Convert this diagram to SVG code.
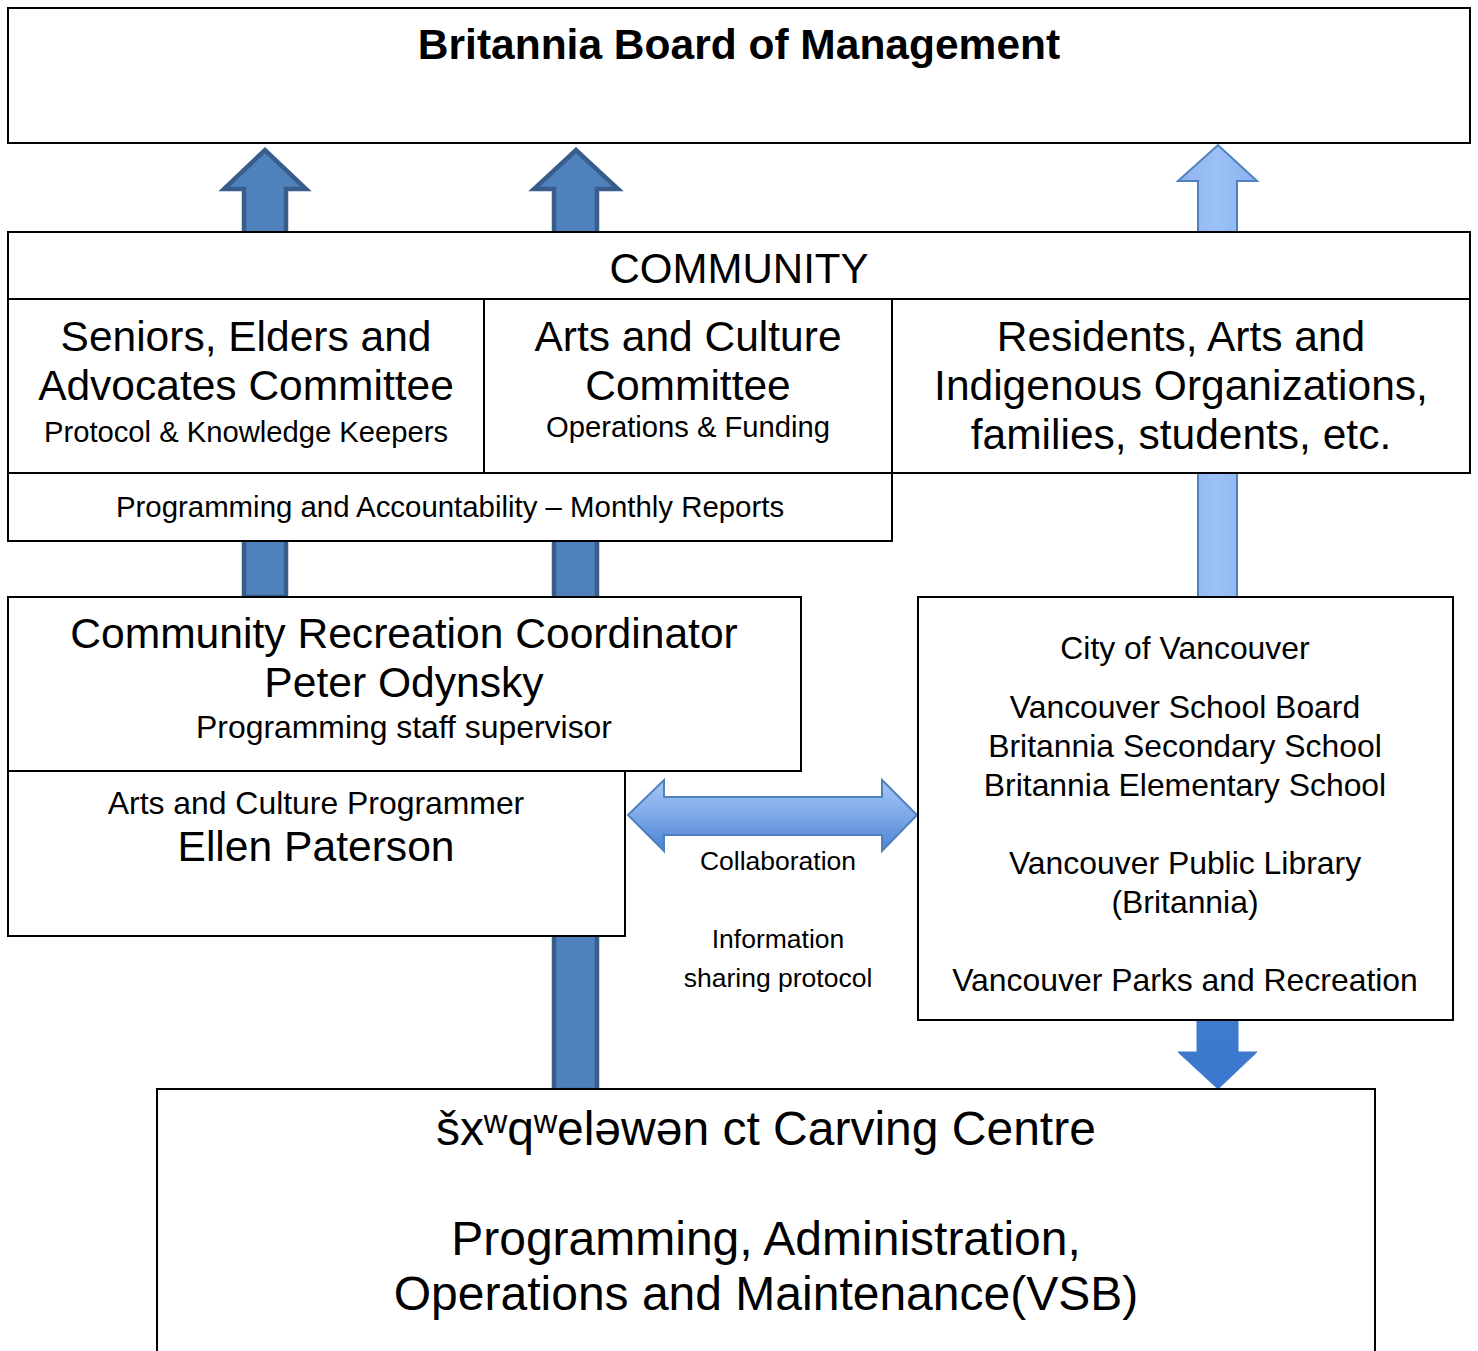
<svg xmlns="http://www.w3.org/2000/svg" width="1478" height="1351" viewBox="0 0 1478 1351">
<defs>
<linearGradient id="gLight" x1="0" y1="0" x2="1" y2="0">
<stop offset="0" stop-color="#8fb4ee"/><stop offset="0.5" stop-color="#9cc1f8"/><stop offset="1" stop-color="#8ab0ec"/>
</linearGradient>
<linearGradient id="gDouble" x1="0" y1="0" x2="0" y2="1">
<stop offset="0" stop-color="#a6c6f5"/><stop offset="0.5" stop-color="#7ea9ea"/><stop offset="1" stop-color="#4a82d2"/>
</linearGradient>
<linearGradient id="gDown" x1="0" y1="0" x2="0" y2="1">
<stop offset="0" stop-color="#3f7bcc"/><stop offset="1" stop-color="#3a78d0"/>
</linearGradient>
<style>
.box{fill:#fff;stroke:#000;stroke-width:2}
.t{font-family:"Liberation Sans",Arial,sans-serif;fill:#000;text-anchor:middle}
.dark{fill:#4f81bd;stroke:#385d8a;stroke-width:4.5;stroke-linejoin:miter}
.light{fill:url(#gLight);stroke:#4f81bd;stroke-width:2}
</style>
</defs>
<g id="connectors">
<path class="dark" d="M244,597 V189 H224 L265,150 L306,189 H286 V597 Z"/>
<path class="dark" d="M554,1090 V189 H534 L576,150 L618,189 H597 V1090 Z"/>
<path class="light" d="M1198,597 V181 H1178 L1218,145 L1257,181 H1237 V597 Z"/>
<path fill="url(#gDown)" stroke="#3f7bcc" stroke-width="1" d="M1197,1020 V1052 H1178 L1218,1089 L1257,1052 H1238 V1020 Z"/>
<path fill="url(#gDouble)" stroke="#4f81bd" stroke-width="2" d="M628,815 L664,780 V797 H882 V780 L917,815 L882,851 V835 H664 V851 Z"/>
</g>
<g id="board">
<rect class="box" x="8" y="8" width="1462" height="135"/>
<text class="t" x="739" y="59" font-size="42.5" font-weight="bold">Britannia Board of Management</text>
</g>
<g id="community">
<rect class="box" x="8" y="232" width="1462" height="67"/>
<text class="t" x="739" y="283" font-size="42">COMMUNITY</text>
</g>
<g id="seniors">
<rect class="box" x="8" y="299" width="476" height="174"/>
<text class="t" x="246" y="351" font-size="42.5">Seniors, Elders and</text>
<text class="t" x="246" y="400" font-size="42.5">Advocates Committee</text>
<text class="t" x="246" y="442" font-size="29.2">Protocol &amp; Knowledge Keepers</text>
</g>
<g id="arts-committee">
<rect class="box" x="484" y="299" width="408" height="174"/>
<text class="t" x="688" y="351" font-size="42.5">Arts and Culture</text>
<text class="t" x="688" y="400" font-size="42.5">Committee</text>
<text class="t" x="688" y="437" font-size="29.2">Operations &amp; Funding</text>
</g>
<g id="residents">
<rect class="box" x="892" y="299" width="578" height="174"/>
<text class="t" x="1181" y="351" font-size="42.5">Residents, Arts and</text>
<text class="t" x="1181" y="400" font-size="42.5">Indigenous Organizations,</text>
<text class="t" x="1181" y="449" font-size="42.5">families, students, etc.</text>
</g>
<g id="programming-reports">
<rect class="box" x="8" y="473" width="884" height="68"/>
<text class="t" x="450" y="517" font-size="29.4">Programming and Accountability – Monthly Reports</text>
</g>
<g id="coordinator">
<rect class="box" x="8" y="597" width="793" height="174"/>
<text class="t" x="404" y="648" font-size="42.6">Community Recreation Coordinator</text>
<text class="t" x="404" y="697" font-size="42.6">Peter Odynsky</text>
<text class="t" x="404" y="738" font-size="31.9">Programming staff supervisor</text>
</g>
<g id="programmer">
<rect class="box" x="8" y="771" width="617" height="165"/>
<text class="t" x="316" y="814" font-size="31.9">Arts and Culture Programmer</text>
<text class="t" x="316" y="861" font-size="42.6">Ellen Paterson</text>
</g>
<g id="collab-labels">
<text class="t" x="778" y="870" font-size="26.5">Collaboration</text>
<text class="t" x="778" y="948" font-size="26.5">Information</text>
<text class="t" x="778" y="987" font-size="26.5">sharing protocol</text>
</g>
<g id="partners">
<rect class="box" x="918" y="597" width="535" height="423"/>
<text class="t" x="1185" y="659" font-size="31.9">City of Vancouver</text>
<text class="t" x="1185" y="718" font-size="31.9">Vancouver School Board</text>
<text class="t" x="1185" y="757" font-size="31.9">Britannia Secondary School</text>
<text class="t" x="1185" y="796" font-size="31.9">Britannia Elementary School</text>
<text class="t" x="1185" y="874" font-size="31.9">Vancouver Public Library</text>
<text class="t" x="1185" y="913" font-size="31.9">(Britannia)</text>
<text class="t" x="1185" y="991" font-size="31.9">Vancouver Parks and Recreation</text>
</g>
<g id="carving">
<rect class="box" x="157" y="1089" width="1218" height="275"/>
<text class="t" x="766" y="1145" font-size="48">šxʷqʷeləwən ct Carving Centre</text>
<text class="t" x="766" y="1255" font-size="48">Programming, Administration,</text>
<text class="t" x="766" y="1310" font-size="48">Operations and Maintenance(VSB)</text>
</g>
</svg>
